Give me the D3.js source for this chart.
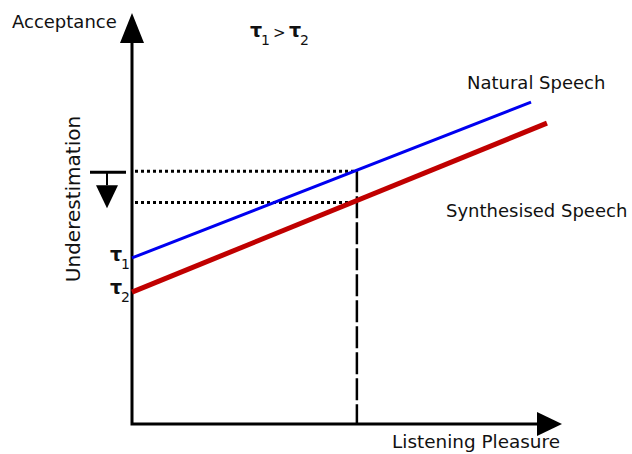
<!DOCTYPE html>
<html>
<head>
<meta charset="utf-8">
<script src="https://cdn.jsdelivr.net/npm/d3@7"></script>
<style>
  html, body { margin: 0; padding: 0; background: #fff; }
  svg { display: block; }
  text { font-family: "DejaVu Sans", Verdana, sans-serif; fill: #111; }
</style>
</head>
<body>
<div id="chart"></div>
<script>
// ---- Data ----
const seriesNames = ["Natural Speech", "Synthesised Speech"];
const naturalPleasure = [0, 92.8];
const naturalAcceptance = [40.4, 78.3];
const synthPleasure = [0, 96.5];
const synthAcceptance = [32.1, 73.2];
const referencePleasure = [52.3];
const interceptLabels = ["1", "2"];
const xAxisLabel = "Listening Pleasure";
const yAxisLabel = "Acceptance";
const gapLabel = "Underestimation";

// ---- Layout ----
const W = 632, H = 454;
const svg = d3.select("#chart").append("svg").attr("width", W).attr("height", H);

const x = d3.scaleLinear().domain([0, 100]).range([132, 562]);
const y = d3.scaleLinear().domain([0, 100]).range([424, 13]);

const interp = (xs, ys, v) => ys[0] + (ys[1] - ys[0]) * (v - xs[0]) / (xs[1] - xs[0]);

const x0 = x(0), y0 = y(0);
const xTip = x(100), yTip = y(100);

// axes
svg.append("path")
  .attr("d", `M${x0},${yTip + 30} V${y0} H${xTip - 25}`)
  .attr("fill", "none").attr("stroke", "#000").attr("stroke-width", 3)
  .attr("stroke-linejoin", "miter");
svg.append("path")
  .attr("d", `M${x0},${yTip} L${x0 - 12},${yTip + 30} L${x0 + 12},${yTip + 30} Z`)
  .attr("fill", "#000");
svg.append("path")
  .attr("d", `M${xTip},${y0} L${xTip - 25},${y0 - 12} L${xTip - 25},${y0 + 12} Z`)
  .attr("fill", "#000");

// reference levels
const ref = referencePleasure[0];
const nAt = interp(naturalPleasure, naturalAcceptance, ref);
const sAt = interp(synthPleasure, synthAcceptance, ref);

// dashed vertical
svg.append("line")
  .attr("x1", x(ref)).attr("x2", x(ref))
  .attr("y1", y(nAt)).attr("y2", y0)
  .attr("stroke", "#000").attr("stroke-width", 2.5)
  .attr("stroke-dasharray", "22,4");

// dotted horizontals
[[nAt, 1], [sAt, 2]].forEach(([v, off]) => {
  svg.append("line")
    .attr("x1", x0 + 3).attr("x2", x(ref))
    .attr("y1", y(v) + off).attr("y2", y(v) + off)
    .attr("stroke", "#000").attr("stroke-width", 3)
    .attr("stroke-dasharray", "3,3");
});

// series lines
const line = d3.line().x(d => x(d[0])).y(d => y(d[1]));
svg.append("path")
  .datum(d3.zip(naturalPleasure, naturalAcceptance))
  .attr("d", line).attr("fill", "none")
  .attr("stroke", "#0000f0").attr("stroke-width", 3);
svg.append("path")
  .datum(d3.zip(synthPleasure, synthAcceptance))
  .attr("d", line).attr("fill", "none")
  .attr("stroke", "#c00000").attr("stroke-width", 5);

// underestimation marker
const yTop = y(nAt) + 2;
svg.append("line").attr("x1", 90).attr("x2", 126).attr("y1", yTop).attr("y2", yTop)
  .attr("stroke", "#000").attr("stroke-width", 3);
svg.append("line").attr("x1", 107).attr("x2", 107).attr("y1", yTop).attr("y2", yTop + 13)
  .attr("stroke", "#000").attr("stroke-width", 2);
svg.append("path")
  .attr("d", `M96,${yTop + 13} L118,${yTop + 13} L107,${yTop + 36} Z`)
  .attr("fill", "#000");

// texts
svg.append("text").attr("x", 12).attr("y", 28).attr("font-size", 18).text(yAxisLabel);
svg.append("text").attr("x", 560).attr("y", 448).attr("text-anchor", "end")
  .attr("font-size", 18.4).text(xAxisLabel);
svg.append("text").attr("x", 467).attr("y", 89).attr("font-size", 18).text(seriesNames[0]);
svg.append("text").attr("x", 446).attr("y", 217).attr("font-size", 18).text(seriesNames[1]);
svg.append("text")
  .attr("transform", "translate(80,199) rotate(-90)")
  .attr("text-anchor", "middle").attr("font-size", 20).text(gapLabel);

// tau labels at intercepts
function tau(xx, yy, sub) {
  svg.append("text").attr("x", xx).attr("y", yy).attr("font-size", 19)
    .attr("font-weight", "bold").text("τ");
  svg.append("text").attr("x", xx + 11).attr("y", yy + 8).attr("font-size", 14).text(sub);
}
tau(110, y(naturalAcceptance[0]) + 3, interceptLabels[0]);
tau(110, y(synthAcceptance[0]) + 2, interceptLabels[1]);

// relation label
tau(250, 37, interceptLabels[0]);
svg.append("text").attr("x", 273).attr("y", 38).attr("font-size", 15).text(">");
tau(289, 37, interceptLabels[1]);
</script>
</body>
</html>
